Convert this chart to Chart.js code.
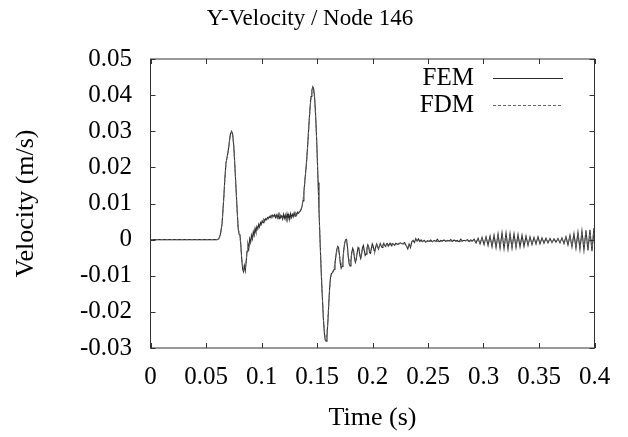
<!DOCTYPE html>
<html>
<head>
<meta charset="utf-8">
<script src="https://cdn.jsdelivr.net/npm/chart.js@4.4.0/dist/chart.umd.min.js"></script>
<style>
  html, body { margin: 0; padding: 0; background: #fff; }
  canvas { display: block; }
</style>
</head>
<body>
<canvas id="myChart" width="628" height="437"></canvas>
<script>
// FEM series (time in s, velocity in m/s)
const femTime = [
  0, 0.03, 0.06, 0.0615, 0.063, 0.0645, 0.066, 0.067, 0.068, 0.069,
  0.07, 0.071, 0.072, 0.073, 0.074, 0.075, 0.076, 0.077, 0.078, 0.079,
  0.0798, 0.0806, 0.0814, 0.0822, 0.083, 0.0838, 0.0846, 0.0854, 0.0862, 0.087,
  0.0878, 0.0886, 0.0894, 0.0902, 0.091, 0.0918, 0.0926, 0.0934, 0.0942, 0.095,
  0.0958, 0.0966, 0.0974, 0.0982, 0.099, 0.0998, 0.1006, 0.1014, 0.1022, 0.103,
  0.1038, 0.1046, 0.1054, 0.1062, 0.107, 0.1078, 0.1086, 0.1094, 0.1102, 0.111,
  0.1118, 0.1126, 0.1134, 0.1142, 0.115, 0.1158, 0.1166, 0.1174, 0.1182, 0.119,
  0.1198, 0.1206, 0.1214, 0.1222, 0.123, 0.1238, 0.1246, 0.1254, 0.1262, 0.127,
  0.1278, 0.1286, 0.1294, 0.1302, 0.131, 0.1318, 0.1326, 0.1334, 0.1342, 0.135,
  0.1358, 0.1366, 0.1374, 0.1382, 0.139, 0.1398, 0.1406, 0.1414, 0.1422, 0.143,
  0.1438, 0.1446, 0.1454, 0.1462, 0.147, 0.1478, 0.1486, 0.1494, 0.1502, 0.151,
  0.1518, 0.1526, 0.1534, 0.1542, 0.155, 0.1558, 0.1566, 0.1574, 0.1582, 0.159,
  0.1598, 0.1606, 0.1614, 0.1622, 0.163, 0.1638, 0.1646, 0.1654, 0.1662, 0.167,
  0.1678, 0.1686, 0.1694, 0.1702, 0.171, 0.1718, 0.1726, 0.1734, 0.1742, 0.175,
  0.1758, 0.1766, 0.1774, 0.1782, 0.179, 0.1798, 0.1806, 0.1814, 0.1822, 0.183,
  0.1838, 0.1846, 0.1854, 0.1862, 0.187, 0.1878, 0.1886, 0.1894, 0.1902, 0.191,
  0.1918, 0.1926, 0.1934, 0.1942, 0.195, 0.1958, 0.1966, 0.1974, 0.1982, 0.199,
  0.1998, 0.2006, 0.2014, 0.2022, 0.203, 0.2038, 0.2046, 0.2054, 0.2062, 0.207,
  0.2078, 0.2086, 0.2094, 0.2102, 0.211, 0.2118, 0.2126, 0.2134, 0.2142, 0.215,
  0.2158, 0.2166, 0.2174, 0.2182, 0.219, 0.22, 0.221, 0.222, 0.223, 0.225,
  0.227, 0.229, 0.2305, 0.2318, 0.233, 0.2342, 0.2354, 0.2366, 0.2378, 0.239,
  0.2402, 0.2414, 0.2426, 0.2438, 0.245, 0.2465, 0.248, 0.2495, 0.251, 0.2525,
  0.254, 0.2555, 0.257, 0.2585, 0.26, 0.2615, 0.263, 0.2645, 0.266, 0.2675,
  0.269, 0.2705, 0.272, 0.2735, 0.275, 0.2765, 0.278, 0.2795, 0.281, 0.2825,
  0.284, 0.2855, 0.287, 0.2885, 0.29, 0.2915, 0.2933, 0.2951, 0.2969, 0.2987,
  0.3005, 0.3023, 0.3041, 0.3059, 0.3077, 0.3095, 0.3113, 0.3131, 0.3149, 0.3167,
  0.3185, 0.3203, 0.3221, 0.3239, 0.3257, 0.3275, 0.3293, 0.3311, 0.3329, 0.3347,
  0.3365, 0.3383, 0.3401, 0.3419, 0.3437, 0.3455, 0.3473, 0.3491, 0.3509, 0.3527,
  0.3545, 0.3563, 0.3581, 0.3599, 0.3617, 0.3635, 0.3653, 0.3671, 0.3689, 0.3707,
  0.3725, 0.3743, 0.3761, 0.3779, 0.3797, 0.3815, 0.3833, 0.3851, 0.3869, 0.3887,
  0.3905, 0.3923, 0.3941, 0.3959, 0.3977, 0.3995, 0.4
];
const femVel = [
  0, 0, 0, 0.0002, 0.0015, 0.0045, 0.0115, 0.017, 0.0212, 0.0228,
  0.0245, 0.027, 0.0292, 0.03, 0.0292, 0.026, 0.0205, 0.0145, 0.0085, 0.003,
  0.0015, 0.0012, -0.0015, -0.0055, -0.0082, -0.0089, -0.0072, -0.0086, -0.0062, -0.0032,
  -0.0012, -0.0024, 0.0002, -0.0008, 0.0012, 0.0002, 0.0022, 0.0012, 0.0031, 0.0021,
  0.0036, 0.0029, 0.0042, 0.0035, 0.0047, 0.0042, 0.0052, 0.0047, 0.0056, 0.0052,
  0.0058, 0.0055, 0.0061, 0.0058, 0.0064, 0.0061, 0.0067, 0.0063, 0.0068, 0.0064,
  0.0069, 0.0061, 0.0068, 0.006, 0.007, 0.0058, 0.0069, 0.0062, 0.0066, 0.0057,
  0.007, 0.0059, 0.0068, 0.0055, 0.0071, 0.0058, 0.0069, 0.0056, 0.0072, 0.0061,
  0.007, 0.0063, 0.0074, 0.0065, 0.0073, 0.0069, 0.0076, 0.0073, 0.0078, 0.0079,
  0.0084, 0.0094, 0.0108, 0.0132, 0.016, 0.0188, 0.0215, 0.0252, 0.0292, 0.0332,
  0.0368, 0.0396, 0.0414, 0.0423, 0.0418, 0.0395, 0.0355, 0.03, 0.0232, 0.0158,
  0.0082, 0.001, -0.0058, -0.0118, -0.0172, -0.0222, -0.0258, -0.0278, -0.0281, -0.0265,
  -0.0228, -0.0178, -0.0132, -0.0104, -0.0094, -0.0092, -0.0088, -0.0082, -0.0068, -0.0045,
  -0.0028, -0.0019, -0.0022, -0.0042, -0.0066, -0.0079, -0.0074, -0.0052, -0.0026, -0.0008,
  0, 0.0001, -0.0018, -0.0048, -0.0068, -0.0073, -0.0058, -0.0034, -0.0024, -0.0032,
  -0.0052, -0.0063, -0.0055, -0.0036, -0.0022, -0.0026, -0.0044, -0.0052, -0.004, -0.0022,
  -0.0016, -0.003, -0.0044, -0.004, -0.0024, -0.0014, -0.002, -0.0036, -0.0038, -0.0024,
  -0.0012, -0.0018, -0.003, -0.0031, -0.0019, -0.0012, -0.002, -0.0026, -0.0018, -0.0011,
  -0.0017, -0.0022, -0.0015, -0.001, -0.0016, -0.0019, -0.0012, -0.0011, -0.0018, -0.0015,
  -0.001, -0.0014, -0.0017, -0.0011, -0.0013, -0.0016, -0.001, -0.0012, -0.0013, -0.0009,
  -0.0012, -0.0008, -0.0018, -0.0026, -0.0012, -0.0022, -0.0006, -0.0002, -0.0008, 0.0003,
  -0.0004, 0.0002, -0.0005, -0.0001, -0.0006, -0.0002, -0.0007, -0.0003, -0.0005, -0.0001,
  -0.0006, -0.0002, -0.0005, 0.0001, -0.0006, -0.0002, -0.0004, -0.0001, -0.0005, -0.0002,
  -0.0004, 0, -0.0005, -0.0001, -0.0004, -0.0002, -0.0006, 0.0001, -0.0004, -0.0002,
  -0.0003, 0, -0.0005, -0.0001, -0.0004, 0.0001, -0.0009, 0.0004, -0.0012, 0.0006,
  -0.0014, 0.0008, -0.0016, 0.001, -0.002, 0.0012, -0.0022, 0.0016, -0.0024, 0.0019,
  -0.0025, 0.0018, -0.0026, 0.0017, -0.0024, 0.0016, -0.0022, 0.0014, -0.002, 0.0012,
  -0.0019, 0.001, -0.0016, 0.0008, -0.0014, 0.0006, -0.0012, 0.0008, -0.0012, 0.0005,
  -0.001, 0.0004, -0.0009, 0.0003, -0.0008, 0.0002, -0.0007, 0.0003, -0.0009, 0.0005,
  -0.0011, 0.0008, -0.0015, 0.0012, -0.002, 0.0016, -0.0024, 0.002, -0.0027, 0.0024,
  -0.0029, 0.0026, -0.003, 0.0027, -0.0032, 0.0032, -0.001
];

// FDM series
const fdmTime = [
  0, 0.06, 0.0615, 0.063, 0.0645, 0.066, 0.067, 0.068, 0.069, 0.07,
  0.071, 0.072, 0.073, 0.074, 0.075, 0.076, 0.077, 0.078, 0.079, 0.0806,
  0.0822, 0.0838, 0.0854, 0.087, 0.0886, 0.0902, 0.0918, 0.0934, 0.095, 0.0966,
  0.0982, 0.0998, 0.1014, 0.103, 0.1046, 0.1062, 0.1078, 0.1094, 0.111, 0.1126,
  0.1142, 0.1158, 0.1174, 0.119, 0.1206, 0.1222, 0.1238, 0.1254, 0.127, 0.1286,
  0.1302, 0.1318, 0.1334, 0.135, 0.1366, 0.1382, 0.1398, 0.1414, 0.143, 0.1446,
  0.1462, 0.1478, 0.1494, 0.151, 0.1526, 0.1542, 0.1558, 0.1574, 0.1582, 0.159,
  0.1606, 0.1622, 0.1638, 0.1654, 0.167, 0.1686, 0.1702, 0.1718, 0.1734, 0.175,
  0.1766, 0.1782, 0.1798, 0.1814, 0.183, 0.1846, 0.1862, 0.1878, 0.1894, 0.191,
  0.1926, 0.1942, 0.1958, 0.1974, 0.199, 0.2006, 0.2022, 0.2038, 0.2054, 0.207,
  0.2086, 0.2102, 0.2118, 0.2134, 0.215, 0.2166, 0.219, 0.222, 0.227, 0.2305,
  0.2318, 0.233, 0.2342, 0.2354, 0.239, 0.2426, 0.248, 0.254, 0.26, 0.266,
  0.272, 0.278, 0.284, 0.29, 0.2915, 0.2933, 0.2951, 0.2969, 0.2987, 0.3005,
  0.3023, 0.3041, 0.3059, 0.3077, 0.3095, 0.3113, 0.3131, 0.3149, 0.3167, 0.3185,
  0.3203, 0.3221, 0.3239, 0.3257, 0.3275, 0.3293, 0.3311, 0.3329, 0.3347, 0.3365,
  0.3383, 0.3401, 0.3419, 0.3437, 0.3455, 0.3473, 0.3491, 0.3509, 0.3527, 0.3545,
  0.3563, 0.3581, 0.3599, 0.3617, 0.3635, 0.3653, 0.3671, 0.3689, 0.3707, 0.3725,
  0.3743, 0.3761, 0.3779, 0.3797, 0.3815, 0.3833, 0.3851, 0.3869, 0.3887, 0.3905,
  0.3923, 0.3941, 0.3959, 0.3977, 0.3995, 0.4
];
const fdmVel = [
  0, 0, 0.0002, 0.0014, 0.0044, 0.0114, 0.0168, 0.021, 0.0227, 0.0244,
  0.0269, 0.0291, 0.0299, 0.0291, 0.0259, 0.0204, 0.0144, 0.0084, 0.003, 0.0011,
  -0.0052, -0.0086, -0.0082, -0.0033, -0.002, -0.0006, 0.0004, 0.0014, 0.0023, 0.0031,
  0.0037, 0.0043, 0.0048, 0.0053, 0.0056, 0.0059, 0.0062, 0.0064, 0.0065, 0.0063,
  0.0062, 0.0061, 0.0063, 0.006, 0.0061, 0.0058, 0.006, 0.0059, 0.0063, 0.0065,
  0.0067, 0.007, 0.0074, 0.0079, 0.0093, 0.013, 0.0186, 0.025, 0.033, 0.0394,
  0.0421, 0.0394, 0.0299, 0.0157, 0.001, -0.0117, -0.022, -0.0276, -0.028, -0.0264,
  -0.0177, -0.0104, -0.0091, -0.008, -0.0045, -0.002, -0.0041, -0.0077, -0.0052, -0.0009,
  0, -0.0046, -0.0071, -0.0035, -0.0032, -0.0061, -0.0037, -0.0027, -0.005, -0.0023,
  -0.003, -0.0039, -0.0016, -0.0034, -0.0024, -0.0019, -0.0029, -0.0013, -0.0025, -0.0012,
  -0.002, -0.0011, -0.0018, -0.0012, -0.0015, -0.0013, -0.0013, -0.0012, -0.0011, -0.0016,
  -0.0024, -0.0013, -0.002, -0.0007, 0.0001, -0.0004, -0.0005, -0.0005, -0.0005, -0.0004,
  -0.0004, -0.0005, -0.0003, -0.0004, 0, -0.0008, 0.0003, -0.0011, 0.0005, -0.0013,
  0.0007, -0.0015, 0.0009, -0.0018, 0.0011, -0.002, 0.0014, -0.0022, 0.0017, -0.0023,
  0.0016, -0.0024, 0.0015, -0.0022, 0.0014, -0.002, 0.0012, -0.0018, 0.001, -0.0017,
  0.0008, -0.0014, 0.0006, -0.0012, 0.0005, -0.0011, 0.0006, -0.001, 0.0004, -0.0009,
  0.0003, -0.0008, 0.0002, -0.0007, 0.0001, -0.0006, 0.0002, -0.0008, 0.0004, -0.001,
  0.0007, -0.0013, 0.001, -0.0018, 0.0014, -0.0021, 0.0018, -0.0024, 0.0021, -0.0026,
  0.0023, -0.0027, 0.0025, -0.0029, 0.0029, -0.0008
];

const xTicks = [0, 0.05, 0.1, 0.15, 0.2, 0.25, 0.3, 0.35, 0.4];
const yTicks = [-0.03, -0.02, -0.01, 0, 0.01, 0.02, 0.03, 0.04, 0.05];

const SERIF = "'Liberation Serif', 'Times New Roman', serif";

function toPoints(times, values) {
    return times.map((t, i) => ({ x: t, y: values[i] }));
}

// gnuplot-like box with inward ticks, plus the key in the top right corner
const framePlugin = {
    id: 'frame',
    afterDraw(chart) {
        const ctx = chart.ctx;
        const a = chart.chartArea;
        const xs = chart.scales.x;
        const ys = chart.scales.y;
        ctx.save();
        ctx.strokeStyle = '#333';
        ctx.lineWidth = 1;
        ctx.strokeRect(a.left, a.top, a.right - a.left, a.bottom - a.top);
        ctx.beginPath();
        xTicks.forEach(v => {
            const px = Math.round(xs.getPixelForValue(v)) + 0.5;
            ctx.moveTo(px, a.bottom); ctx.lineTo(px, a.bottom - 5);
            ctx.moveTo(px, a.top); ctx.lineTo(px, a.top + 5);
        });
        yTicks.forEach(v => {
            const py = Math.round(ys.getPixelForValue(v)) + 0.5;
            ctx.moveTo(a.left, py); ctx.lineTo(a.left + 5, py);
            ctx.moveTo(a.right, py); ctx.lineTo(a.right - 5, py);
        });
        ctx.stroke();

        // key
        const legendOrder = ['FEM', 'FDM'];
        legendOrder.forEach((name, i) => {
            const ds = chart.data.datasets.find(d => d.label === name);
            const y = Math.round(a.top + 19 + i * 27) + 0.5;
            ctx.font = '25px ' + SERIF;
            ctx.fillStyle = '#000';
            ctx.textAlign = 'right';
            ctx.textBaseline = 'middle';
            ctx.fillText(ds.label, a.right - 120.5, y);
            ctx.strokeStyle = ds.borderColor;
            ctx.setLineDash(ds.borderDash || []);
            ctx.beginPath();
            ctx.moveTo(a.right - 101.5, y);
            ctx.lineTo(a.right - 31.5, y);
            ctx.stroke();
        });
        ctx.restore();
    }
};

const ctx = document.getElementById('myChart').getContext('2d');
const myChart = new Chart(ctx, {
    type: 'line',
    data: {
        datasets: [{
            label: 'FEM',
            data: toPoints(femTime, femVel),
            borderColor: '#2a2a2a',
            borderWidth: 1.1,
            pointRadius: 0,
            fill: false,
            tension: 0,
            order: 1
        }, {
            label: 'FDM',
            data: toPoints(fdmTime, fdmVel),
            borderColor: '#666',
            borderWidth: 1,
            borderDash: [3, 2],
            pointRadius: 0,
            fill: false,
            tension: 0,
            order: 0
        }]
    },
    options: {
        responsive: false,
        animation: false,
        devicePixelRatio: 1,
        // left padding keeps the title centred where the original has it
        layout: { padding: { left: 25.5, right: 33.5, top: 0, bottom: 0 } },
        scales: {
            x: {
                type: 'linear',
                min: 0,
                max: 0.4,
                afterBuildTicks: s => { s.ticks = xTicks.map(v => ({ value: v })); },
                afterFit: s => { s.height = 89; },
                grid: { display: false, drawTicks: false },
                border: { display: false },
                ticks: {
                    callback: v => String(v),
                    font: { family: SERIF, size: 25 },
                    color: '#000',
                    padding: 14,
                    maxRotation: 0,
                    autoSkip: false
                },
                title: {
                    display: true,
                    text: 'Time (s)',
                    font: { family: SERIF, size: 26 },
                    color: '#000',
                    padding: { top: 0, bottom: 3 }
                }
            },
            y: {
                type: 'linear',
                min: -0.03,
                max: 0.05,
                afterBuildTicks: s => { s.ticks = yTicks.map(v => ({ value: v })); },
                afterFit: s => { s.width = 125; },
                grid: { display: false, drawTicks: false },
                border: { display: false },
                ticks: {
                    callback: v => String(v),
                    font: { family: SERIF, size: 25 },
                    color: '#000',
                    padding: 18.5,
                    autoSkip: false
                },
                title: {
                    display: true,
                    text: 'Velocity (m/s)',
                    font: { family: SERIF, size: 26 },
                    color: '#000',
                    padding: { top: -14.5, bottom: 0 }
                }
            }
        },
        plugins: {
            legend: { display: false },
            tooltip: { enabled: false },
            title: {
                display: true,
                text: 'Y-Velocity / Node 146',
                font: { family: SERIF, size: 23, weight: 'normal' },
                color: '#000',
                padding: { top: 5, bottom: 26.4 }
            }
        }
    },
    plugins: [framePlugin]
});
</script>
</body>
</html>
